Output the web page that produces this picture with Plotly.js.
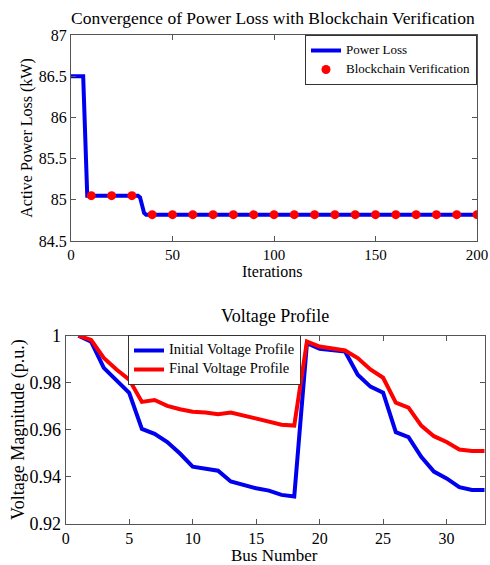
<!DOCTYPE html>
<html>
<head>
<meta charset="utf-8">
<script src="https://cdn.plot.ly/plotly-3.0.1.min.js"></script>
<style>html,body{margin:0;padding:0;background:#fff;}#chart{width:490px;height:565px;}</style>
</head>
<body>
<div id="chart"></div>
<script>
// Top chart: power loss convergence
const iterations = [0, 6, 8, 33, 34, 35, 36, 37, 200];
const powerLoss = [86.5, 86.5, 85.05, 85.05, 85.03, 84.92, 84.84, 84.82, 84.82];
const verifyIter = [10, 20, 30, 40, 50, 60, 70, 80, 90, 100, 110, 120, 130, 140, 150, 160, 170, 180, 190, 200];
const verifyLoss = [85.05, 85.05, 85.05, 84.82, 84.82, 84.82, 84.82, 84.82, 84.82, 84.82, 84.82, 84.82, 84.82, 84.82, 84.82, 84.82, 84.82, 84.82, 84.82, 84.82];

// Bottom chart: voltage profile
const buses = [1,2,3,4,5,6,7,8,9,10,11,12,13,14,15,16,17,18,19,20,21,22,23,24,25,26,27,28,29,30,31,32,33];
const initialV = [1.0, 0.9975, 0.9863, 0.981, 0.9757, 0.9603, 0.9582, 0.9547, 0.9498, 0.9442, 0.9435, 0.9425, 0.9379, 0.9364, 0.935, 0.934, 0.9322, 0.9315,
  0.9968, 0.9944, 0.994, 0.9933, 0.9834, 0.9783, 0.9757, 0.9589, 0.9568, 0.9484, 0.9421, 0.9392, 0.9355, 0.9343, 0.9343];
const finalV = [1.0, 0.9982, 0.9905, 0.9856, 0.9813, 0.9718, 0.9726, 0.9701, 0.9687, 0.9676, 0.9673, 0.9666, 0.9673, 0.9659, 0.9645, 0.9635, 0.9621, 0.9617,
  0.9975, 0.9954, 0.9947, 0.9937, 0.9905, 0.9856, 0.9821, 0.9715, 0.9694, 0.9617, 0.9572, 0.9547, 0.9515, 0.9509, 0.9509];

const serif = '"Liberation Serif", "Times New Roman", Times, serif';
const W = 490, H = 565;

function legendName(text, size) {
  return '<span style="font-size:' + size + 'px">' + text + '</span>';
}

const traces = [
  {x: iterations, y: powerLoss, type: 'scatter', mode: 'lines', name: legendName('Power Loss', 13),
   line: {color: '#0000ee', width: 4}, xaxis: 'x', yaxis: 'y', legend: 'legend'},
  {x: verifyIter, y: verifyLoss, type: 'scatter', mode: 'markers', name: legendName('Blockchain Verification', 13),
   marker: {color: '#ff0000', size: 9}, xaxis: 'x', yaxis: 'y', legend: 'legend'},
  {x: buses, y: initialV, type: 'scatter', mode: 'lines', name: legendName('Initial Voltage Profile', 14.5),
   line: {color: '#0000ee', width: 4}, xaxis: 'x2', yaxis: 'y2', legend: 'legend2'},
  {x: buses, y: finalV, type: 'scatter', mode: 'lines', name: legendName('Final Voltage Profile', 14.5),
   line: {color: '#ff0000', width: 4}, xaxis: 'x2', yaxis: 'y2', legend: 'legend2'}
];

function ax(extra) {
  return Object.assign({
    showline: true, mirror: 'ticks', linecolor: '#555', linewidth: 1,
    ticks: 'inside', ticklen: 5, tickcolor: '#555', showgrid: false, zeroline: false,
    automargin: false, tickfont: {family: serif, size: 16, color: '#000'}
  }, extra);
}

const layout = {
  width: W, height: H,
  margin: {l: 0, r: 0, t: 0, b: 0},
  paper_bgcolor: '#fff', plot_bgcolor: '#fff',
  font: {family: serif, color: '#000'},
  xaxis: ax({domain: [71/W, 477/W], range: [0, 200], tickvals: [0, 50, 100, 150, 200],
    anchor: 'y', tickfont: {family: serif, size: 15, color: '#000'}}),
  yaxis: ax({domain: [1 - 241/H, 1 - 35/H], range: [84.5, 87], tickvals: [84.5, 85, 85.5, 86, 86.5, 87],
    anchor: 'x', title: {text: 'Active Power Loss (kW)', font: {family: serif, size: 16}, standoff: 2}}),
  xaxis2: ax({domain: [65.7/W, 484.7/W], range: [0, 33], tickvals: [0, 5, 10, 15, 20, 25, 30],
    anchor: 'y2', tickfont: {family: serif, size: 16, color: '#000'}}),
  yaxis2: ax({domain: [1 - 523.5/H, 1 - 335.7/H], range: [0.92, 1], tickvals: [0.92, 0.94, 0.96, 0.98, 1],
    ticktext: ['0.92', '0.94', '0.96', '0.98', '1'], tickmode: 'array',
    anchor: 'x2', tickfont: {family: serif, size: 18, color: '#000'},
    title: {text: 'Voltage Magnitude (p.u.)', font: {family: serif, size: 18}, standoff: 0}}),
  legend: {x: 477/W, y: 1 - 35/H, xanchor: 'right', yanchor: 'top', bgcolor: '#fff',
    bordercolor: '#333', borderwidth: 1, font: {family: serif, size: 9}, tracegroupgap: 0},
  legend2: {x: 128/W, y: 1 - 335/H, xanchor: 'left', yanchor: 'top', bgcolor: '#fff',
    bordercolor: '#333', borderwidth: 1, font: {family: serif, size: 10}, tracegroupgap: 0},
  annotations: [
    {text: 'Convergence of Power Loss with Blockchain Verification', x: 273/W, y: 1 - 18/H,
     xref: 'paper', yref: 'paper', showarrow: false, xanchor: 'center', yanchor: 'middle',
     font: {family: serif, size: 17.5, color: '#000'}},
    {text: 'Iterations', x: 272/W, y: 1 - 271.5/H,
     xref: 'paper', yref: 'paper', showarrow: false, xanchor: 'center', yanchor: 'middle',
     font: {family: serif, size: 16, color: '#000'}},
    {text: 'Voltage Profile', x: 275/W, y: 1 - 316/H,
     xref: 'paper', yref: 'paper', showarrow: false, xanchor: 'center', yanchor: 'middle',
     font: {family: serif, size: 18, color: '#000'}},
    {text: 'Bus Number', x: 274/W, y: 1 - 555.5/H,
     xref: 'paper', yref: 'paper', showarrow: false, xanchor: 'center', yanchor: 'middle',
     font: {family: serif, size: 17, color: '#000'}}
  ],
  showlegend: true
};

Plotly.newPlot('chart', traces, layout, {displayModeBar: false, staticPlot: true});
</script>
</body>
</html>
